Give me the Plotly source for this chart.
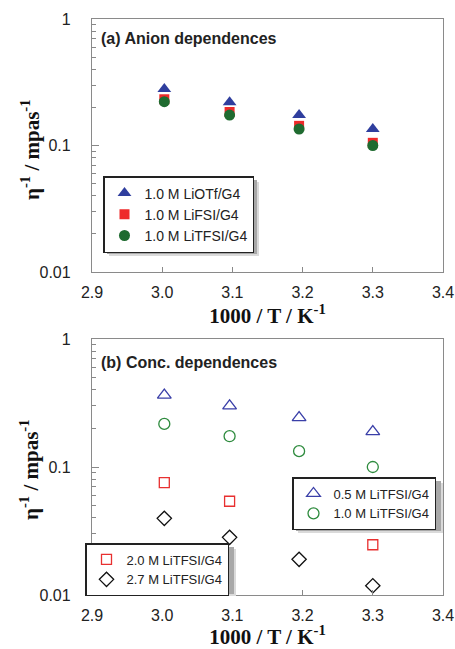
import plotly.graph_objects as go

# ---- data ----
x_vals = [3.003, 3.096, 3.195, 3.300]

# (a) anion dependences
a_names = ["1.0 M LiOTf/G4", "1.0 M LiFSI/G4", "1.0 M LiTFSI/G4"]
a_liotf = [0.28, 0.22, 0.174, 0.135]
a_lifsi = [0.232, 0.184, 0.143, 0.105]
a_litfsi = [0.222, 0.174, 0.135, 0.100]

# (b) concentration dependences
b_names = ["0.5 M LiTFSI/G4", "1.0 M LiTFSI/G4", "2.0 M LiTFSI/G4", "2.7 M LiTFSI/G4"]
b_05 = [0.365, 0.300, 0.243, 0.189]
b_10 = [0.217, 0.174, 0.133, 0.100]
b_20 = [0.0755, 0.054, 0.0377, 0.0247]
b_27 = [0.0397, 0.0282, 0.019, 0.0118]

x_ticks = [2.9, 3.0, 3.1, 3.2, 3.3, 3.4]
x_ticktext = ["2.9", "3.0", "3.1", "3.2", "3.3", "3.4"]
y_ticks = [0.01, 0.1, 1]
y_ticktext = ["0.01", "0.1", "1"]
y_minor = [m * 10 ** e for e in (-2, -1) for m in range(2, 10)]

W, H = 455, 649
fig = go.Figure()

BLUE = "#2F3E9E"
RED = "#EE2A2A"
GREEN = "#1F6B30"

fig.add_trace(go.Scatter(x=x_vals, y=a_liotf, mode="markers", name=a_names[0],
                         marker=dict(symbol="triangle-up", size=12, color=BLUE),
                         xaxis="x", yaxis="y", legend="legend"))
fig.add_trace(go.Scatter(x=x_vals, y=a_lifsi, mode="markers", name=a_names[1],
                         marker=dict(symbol="square", size=10, color=RED),
                         xaxis="x", yaxis="y", legend="legend"))
fig.add_trace(go.Scatter(x=x_vals, y=a_litfsi, mode="markers", name=a_names[2],
                         marker=dict(symbol="circle", size=11, color=GREEN),
                         xaxis="x", yaxis="y", legend="legend"))

fig.add_trace(go.Scatter(x=x_vals, y=b_05, mode="markers", name=b_names[0],
                         marker=dict(symbol="triangle-up-open", size=12, color="#3A3FA8",
                                     line=dict(width=1.3)),
                         xaxis="x2", yaxis="y2", legend="legend2"))
fig.add_trace(go.Scatter(x=x_vals, y=b_10, mode="markers", name=b_names[1],
                         marker=dict(symbol="circle-open", size=11, color="#2E8B3E",
                                     line=dict(width=1.3)),
                         xaxis="x2", yaxis="y2", legend="legend2"))
fig.add_trace(go.Scatter(x=x_vals, y=b_20, mode="markers", name=b_names[2],
                         marker=dict(symbol="square-open", size=10, color="#E83030",
                                     line=dict(width=1.3)),
                         xaxis="x2", yaxis="y2", legend="legend3"))
fig.add_trace(go.Scatter(x=x_vals, y=b_27, mode="markers", name=b_names[3],
                         marker=dict(symbol="diamond-open", size=11, color="#111111",
                                     line=dict(width=1.3)),
                         xaxis="x2", yaxis="y2", legend="legend3"))

px0, px1 = 92 / W, 443 / W
top_dom = [1 - 272 / H, 1 - 19 / H]
bot_dom = [1 - 595 / H, 1 - 339 / H]

tick_font = dict(family="Arial, Liberation Sans", size=16, color="#222")
title_font = dict(family="Liberation Serif, Times New Roman", size=21, color="#111")
ytitle = "<b>η<sup>-1</sup> / mpas<sup>-1</sup></b>"
xtitle = "<b>1000 / T / K<sup>-1</sup></b>"

def xaxis(anchor, dom_y):
    return dict(domain=[px0, px1], anchor=anchor, range=[2.9, 3.4], automargin=False,
                tickvals=x_ticks, ticktext=x_ticktext, ticks="inside", ticklen=5,
                tickcolor="#888", showline=True, linecolor="#8a8a8a", linewidth=1.3,
                mirror=True, showgrid=False, zeroline=False, tickfont=tick_font,
                ticklabelstandoff=6, ticklabeloverflow="allow",
                title=dict(text=xtitle, font=title_font, standoff=2))

def yaxis(anchor, dom):
    return dict(domain=dom, anchor=anchor, type="log", range=[-2, 0], automargin=False,
                tickvals=y_ticks, ticktext=y_ticktext, ticks="inside", ticklen=7,
                tickcolor="#888", showline=True, linecolor="#8a8a8a", linewidth=1.3,
                mirror=True, showgrid=False, zeroline=False, tickfont=tick_font,
                ticklabelstandoff=17, ticklabeloverflow="allow",
                minor=dict(tickvals=y_minor, ticks="inside", ticklen=4, tickcolor="#888",
                           showgrid=False))

def leg(x, y, size):
    return dict(x=x, y=y, bgcolor="white", bordercolor="#222", borderwidth=1.5,
                font=dict(family="Arial, Liberation Sans", size=size, color="#222"),
                xanchor="left", yanchor="top", tracegroupgap=0, itemwidth=30)

# legend boxes (pixels): left, top, right, bottom -> soft drop shadows
leg_boxes = [(103, 176, 253, 250), (292, 477, 437, 527), (85, 543, 230, 590)]
shapes = []
for (l, t, r, b) in leg_boxes:
    for k, c in ((6, "#dadada"), (4, "#a8a8a8")):
        shapes.append(dict(type="rect", xref="paper", yref="paper",
                           x0=(l + k) / W, x1=(r + k) / W,
                           y0=1 - (b + k) / H, y1=1 - (t + k) / H,
                           fillcolor=c, line=dict(width=0), layer="above"))

def ann_ytitle(ymid):
    return dict(text=ytitle, x=30 / W, y=1 - ymid / H, xref="paper", yref="paper",
                xanchor="center", yanchor="middle", textangle=-90, showarrow=False,
                font=title_font)

fig.update_layout(
    width=W, height=H, margin=dict(l=0, r=0, t=0, b=0),
    paper_bgcolor="white", plot_bgcolor="white",
    xaxis=xaxis("y", top_dom), yaxis=yaxis("x", top_dom),
    xaxis2=xaxis("y2", bot_dom), yaxis2=yaxis("x2", bot_dom),
    legend=leg(103 / W, 1 - 176 / H, 14),
    legend2=leg(292 / W, 1 - 477 / H, 13),
    legend3=leg(85 / W, 1 - 543 / H, 13),
    showlegend=True,
    shapes=shapes,
    annotations=[
        ann_ytitle(150), ann_ytitle(470),
        dict(text="<b>(a) Anion dependences</b>", x=99 / W, y=1 - 39 / H, xref="paper",
             yref="paper", xanchor="left", yanchor="middle", showarrow=False,
             font=dict(family="Arial, Liberation Sans", size=16, color="#222")),
        dict(text="<b>(b) Conc. dependences</b>", x=99 / W, y=1 - 362 / H, xref="paper",
             yref="paper", xanchor="left", yanchor="middle", showarrow=False,
             font=dict(family="Arial, Liberation Sans", size=16, color="#222")),
    ],
)

fig.write_html("out.html")
